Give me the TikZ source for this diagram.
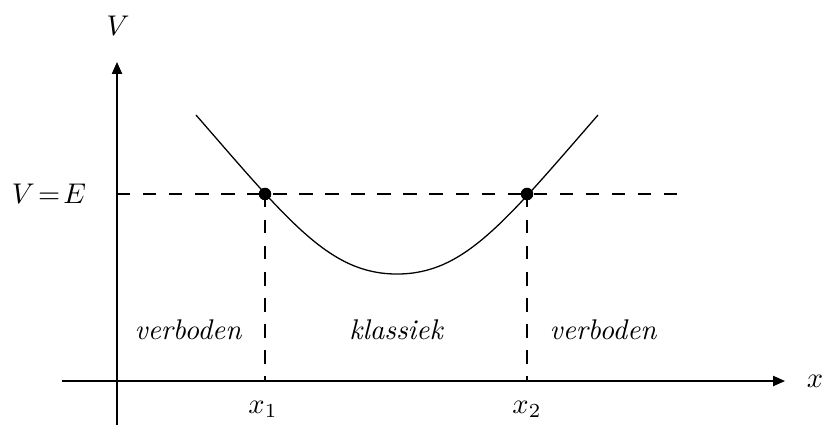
\documentclass[tikz,border=0pt]{standalone}
\usetikzlibrary{arrows.meta}
\begin{document}
\begin{tikzpicture}[x=0.351pt,y=-0.351pt,
  axis/.style={line width=0.5pt,-{Triangle[length=4.2pt,width=3.6pt]}},
  guide/.style={line width=0.5pt,dash pattern=on 4.7pt off 4.44pt},
  curve/.style={line width=0.45pt},
  dot/.style={circle,fill=black,inner sep=0pt,minimum size=4.4pt},
  lbl/.style={inner sep=0pt}]
\useasboundingbox (0,0) rectangle (823,427);
% axes
\coordinate (xs) at (62,381);
\coordinate (xe) at (785,381);
\coordinate (ys) at (117,425);
\coordinate (ye) at (117,62);
\draw[axis] (xs) -- (xe);
\draw[axis] (ys) -- (ye);
\node[lbl] (xl) at (815,381) {$x$};
\node[lbl] (vl) at (118,26) {$V$};
% energy level
\coordinate (es) at (117,194);
\coordinate (ee) at (678,194);
\draw[guide] (es) -- (ee);
\node[lbl] (vel) at (49,194) {$V\!=\!E$};
% turning points
\node[dot] (p1) at (265,194) {};
\node[dot] (p2) at (527,194) {};
\coordinate (b1) at (265,381);
\coordinate (b2) at (527,381);
\draw[guide] (p1.center) -- (b1);
\draw[guide] (p2.center) -- (b2);
% potential curve
\draw[curve] (196,115) .. controls (290,223) and (330,274) .. (397,274)
  .. controls (464,274) and (504,223) .. (598,115);
% labels
\node[lbl] (x1) at (263,409) {$x_1$};
\node[lbl] (x2) at (527,409) {$x_2$};
\node[lbl] (vb1) at (188,330) {\itshape verboden};
\node[lbl] (kl) at (396,330) {\itshape klassiek};
\node[lbl] (vb2) at (603,330) {\itshape verboden};
\end{tikzpicture}
\end{document}
